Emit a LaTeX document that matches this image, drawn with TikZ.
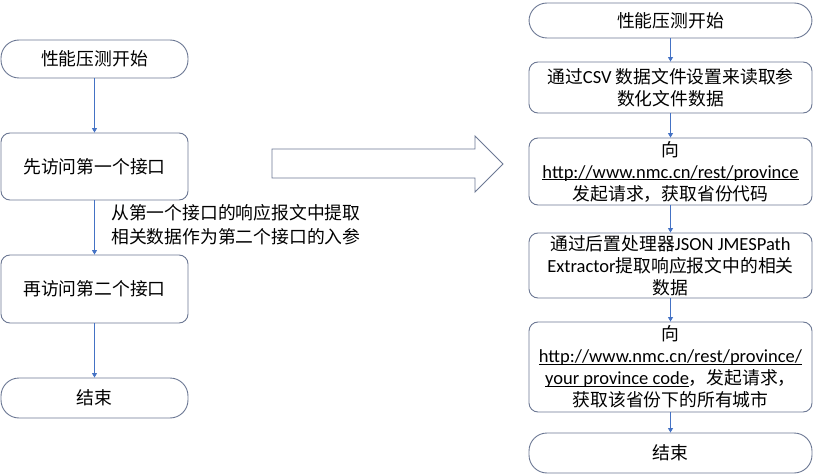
\documentclass[tikz,border=0pt]{standalone}
\usepackage{fontspec}
\setmainfont{Noto Sans CJK SC}
\newfontfamily\lat[Scale=1.04]{Carlito}
\usetikzlibrary{arrows.meta}
\definecolor{edgec}{RGB}{108,120,148}
\definecolor{flowc}{RGB}{68,114,196}
\newcommand{\ul}[1]{\underline{\smash{\lat #1}}\vphantom{p}}
\tikzset{
  base/.style={draw=edgec, line width=0.9pt, fill=white, align=center,
    font=\fontsize{17.8}{22}\selectfont, inner sep=0pt},
  term/.style={base, rounded corners=18pt},
  proc/.style={base, rounded corners=9pt},
  flowarrow/.style={draw=flowc, line width=0.8pt, -{Triangle[width=5pt,length=4.5pt]}},
  bigarrow/.style={draw=edgec, line width=0.9pt, fill=white},
}
\begin{document}
\begin{tikzpicture}[x=1pt,y=-1pt]
\useasboundingbox (0,0) rectangle (817,476);
% left column
\node[term, minimum width=187pt, minimum height=38pt] (ls) at (94.5,59) {性能压测开始};
\node[proc, minimum width=187pt, minimum height=67pt] (l1) at (94.5,166.5) {先访问第一个接口};
\node[proc, minimum width=187pt, minimum height=68pt] (l2) at (94.5,289) {再访问第二个接口};
\node[term, minimum width=187pt, minimum height=40pt] (le) at (94.5,398) {结束};
\draw[flowarrow] (ls) -- (l1);
\draw[flowarrow] (l1) -- (l2);
\draw[flowarrow] (l2) -- (le);
\node[anchor=west, align=left, inner sep=0pt, font=\fontsize{17.8}{24}\selectfont] (lab) at (111,225)
  {从第一个接口的响应报文中提取\\相关数据作为第二个接口的入参};
% big arrow
\draw[bigarrow] (272,149) -- (475,149) -- (475,136) -- (503,164) -- (475,192) -- (475,178) -- (272,178) -- cycle;
% right column
\node[term, minimum width=283pt, minimum height=35pt] (rs) at (670.5,20.5) {性能压测开始};
\node[proc, minimum width=283pt, minimum height=51pt] (r1) at (670.5,87.5)
  {通过{\lat CSV} 数据文件设置来读取参\\数化文件数据};
\node[proc, minimum width=283pt, minimum height=67pt] (r2) at (670.5,171.5)
  {向\\\ul{http://www.nmc.cn/rest/province}\\发起请求，获取省份代码};
\node[proc, minimum width=283pt, minimum height=65pt] (r3) at (670.5,265.5)
  {通过后置处理器{\lat JSON JMESPath}\\{\lat Extractor}提取响应报文中的相关\\数据};
\node[proc, minimum width=283pt, minimum height=90pt] (r4) at (670.5,367)
  {向\\\ul{http://www.nmc.cn/rest/province/}\\\ul{your province code}，发起请求，\\获取该省份下的所有城市};
\node[term, minimum width=283pt, minimum height=40pt] (re) at (670.5,453) {结束};
\draw[flowarrow] (rs) -- (r1);
\draw[flowarrow] (r1) -- (r2);
\draw[flowarrow] (r2) -- (r3);
\draw[flowarrow] (r3) -- (r4);
\draw[flowarrow] (r4) -- (re);
\end{tikzpicture}
\end{document}
